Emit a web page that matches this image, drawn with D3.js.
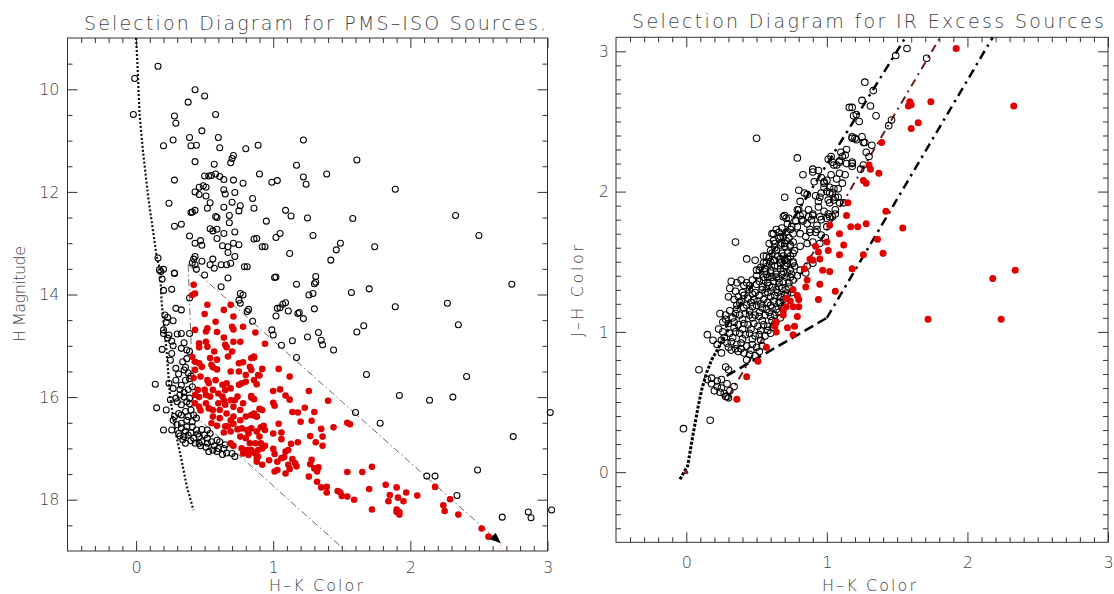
<!DOCTYPE html>
<html><head><meta charset="utf-8">
<script src="https://cdn.jsdelivr.net/npm/d3@7"></script>
<style>body{margin:0;background:#fff}</style>
</head><body><svg id="c" width="1114" height="594"></svg>
<script>
// ---------- LEFT PANEL DATA (H-K colour, H magnitude) ----------
const leftTitle = "Selection Diagram for PMS\u2013ISO Sources.";
const rightTitle = "Selection Diagram for IR Excess Sources";
const xTicks = [0,1,2,3];
const leftYTicks = [10,12,14,16,18];
const rightYTicks = [0,1,2,3];
const leftOpen = [
[0.16,9.55],[-0.01,9.79],[0.43,10.01],[0.50,10.13],[0.38,10.25],[-0.02,10.49],[0.58,10.49],[0.28,10.52],[0.29,10.66],[0.48,10.81],[0.27,10.99],[0.39,10.94],[0.60,10.94],[0.20,11.10],[0.40,11.10],[0.44,11.09],[0.61,11.14],[0.80,11.16],[0.89,11.09],[1.22,10.99],[0.43,11.41],[0.57,11.46],[0.70,11.35],[0.71,11.29],[0.69,11.43],[1.17,11.48],[0.90,11.65],[0.50,11.69],[0.53,11.69],[0.55,11.68],[0.58,11.65],[0.61,11.70],[0.64,11.76],[0.71,11.77],[0.78,11.83],[0.28,11.77],[0.99,11.81],[1.03,11.78],[1.22,11.71],[1.24,11.85],[0.49,11.88],[0.46,11.91],[0.51,11.91],[0.43,12.00],[0.46,12.05],[0.51,12.08],[0.64,11.96],[0.65,12.04],[0.72,12.01],[0.24,12.22],[0.54,12.21],[0.52,12.32],[0.64,12.30],[0.70,12.20],[0.76,12.27],[0.75,12.37],[0.85,12.13],[0.86,12.32],[0.40,12.40],[0.41,12.39],[0.43,12.36],[0.58,12.48],[0.59,12.50],[0.68,12.46],[1.09,12.36],[1.13,12.47],[1.25,12.51],[0.28,12.67],[0.33,12.63],[0.68,12.60],[0.95,12.57],[0.54,12.72],[0.56,12.76],[0.59,12.73],[0.64,12.81],[0.72,12.78],[0.39,12.86],[0.43,13.00],[0.47,12.95],[0.48,13.04],[0.59,12.91],[0.63,13.05],[0.67,13.07],[0.71,13.00],[0.75,13.03],[0.86,12.92],[0.88,12.91],[0.92,13.07],[0.94,13.07],[1.02,12.89],[1.05,12.81],[1.12,13.20],[0.43,13.26],[0.42,13.31],[0.41,13.38],[0.43,13.42],[0.44,13.51],[0.48,13.35],[0.56,13.31],[0.54,13.42],[0.57,13.49],[0.62,13.42],[0.66,13.42],[0.69,13.39],[0.72,13.26],[0.67,13.18],[0.79,13.46],[0.81,13.46],[1.02,13.66],[0.28,13.58],[0.16,13.29],[0.17,13.52],[0.20,13.51],[0.50,13.62],[0.67,13.68],
[1.61,11.38],[1.39,11.65],[1.89,11.95],[1.58,12.52],[2.33,12.46],[1.29,12.85],[2.50,12.85],[1.49,13.00],[1.46,13.13],[1.74,13.07],[1.42,13.33],[1.31,13.65],
[1.01,13.67],[1.17,13.80],[1.30,13.79],[1.31,13.76],[1.26,14.01],[1.29,13.98],[1.57,13.96],[1.70,13.89],[2.74,13.80],[1.89,14.24],[2.27,14.17],[1.02,14.42],[1.03,14.27],[1.05,14.26],[1.07,14.19],[1.09,14.16],[1.11,14.32],[1.18,14.37],[1.19,14.35],[1.22,14.47],[1.30,14.28],[2.35,14.59],[0.85,14.52],[0.99,14.69],[1.00,14.79],[1.06,14.99],[1.14,14.90],[1.25,14.83],[1.33,14.74],[1.35,14.89],[1.36,14.98],[1.44,15.08],[1.61,14.73],[1.66,14.61],[1.17,15.23],[1.68,15.56],[2.41,15.60],[1.92,15.97],[2.14,16.06],[2.31,16.00],[1.60,16.30],[1.78,16.51],[3.02,16.30],[2.75,16.77],[2.12,17.54],[2.18,17.54],[2.49,17.42],[2.34,17.92],[2.67,18.34],[2.86,18.24],[2.88,18.35],[3.03,18.20],
[0.18,13.55],[0.19,13.70],[0.20,13.92],[0.26,13.90],[0.28,13.59],[0.39,14.07],[0.62,13.85],[0.76,13.98],[0.78,14.01],[0.75,14.11],[0.76,14.17],[0.82,14.29],[0.81,14.33],[0.29,14.27],[0.33,14.30],[0.21,14.40],[0.23,14.45],[0.22,14.54],[0.27,14.51],[0.20,14.69],[0.20,14.76],[0.24,14.79],[0.23,14.85],[0.30,14.77],[0.33,14.76],[0.39,14.76],[0.26,14.91],[0.27,15.00],[0.19,15.07],[0.35,14.94],[0.37,15.08],[0.39,15.11],[0.25,15.28],[0.29,15.44],[0.34,15.31],[0.37,15.25],[0.35,15.47],[0.38,15.53],[0.14,15.75],[0.24,15.73],[0.27,15.83],[0.32,15.85],[0.29,15.67],[0.33,15.77],[0.36,15.67],[0.39,15.64],[0.40,15.59],[0.32,15.96],[0.35,15.91],[0.38,15.85],[0.41,15.80],[0.29,16.02],[0.30,16.09],[0.33,16.15],[0.37,16.09],[0.39,16.02],[0.35,16.00],[0.39,16.13],[0.15,16.21],[0.22,16.25],[0.28,16.38],[0.31,16.32],[0.33,16.35],[0.36,16.28],[0.38,16.38],[0.42,16.35],[0.44,16.41],[0.41,16.48],[0.30,16.54],[0.33,16.51],[0.37,16.58],[0.41,16.58],[0.44,16.64],[0.48,16.63],[0.52,16.64],[0.54,16.71],[0.50,16.74],[0.20,16.64],[0.26,16.64],[0.31,16.71],[0.35,16.77],[0.38,16.74],[0.42,16.80],[0.46,16.77],[0.48,16.87],[0.52,16.80],[0.55,16.87],[0.59,16.84],[0.43,16.90],[0.46,16.90],[0.52,16.90],[0.56,17.03],[0.59,17.06],[0.64,17.00],[0.66,17.09],[0.70,17.10],[0.72,17.16],[0.61,16.87],[0.65,16.93],[0.34,16.83],[0.32,16.76],
[0.36,16.66],[0.40,16.70],[0.45,16.72],[0.33,16.60],[0.47,16.95],[0.51,16.98],[0.40,16.85],[0.36,16.90],[0.53,17.06],[0.60,17.00],[0.63,17.12],[0.57,16.95],[0.27,16.45],[0.25,16.05],[0.31,15.55],[0.26,15.15],[0.33,15.05],[0.36,15.42],[0.40,16.25],[0.37,16.45]
];
const leftRed = [
[0.87,14.74],[0.94,14.96],[0.86,15.23],[0.92,15.45],[1.04,15.45],[0.90,15.58],[1.12,15.60],[0.88,15.75],[1.00,15.88],[1.05,15.85],[1.26,15.88],[0.84,16.01],[1.09,15.97],[1.12,16.05],[1.40,16.07],[1.00,16.11],[1.01,16.17],[0.92,16.25],[0.90,16.23],[0.86,16.36],[0.88,16.38],[1.14,16.29],[1.18,16.30],[1.23,16.21],[1.30,16.29],[1.20,16.48],[1.28,16.46],[1.54,16.50],[1.56,16.53],[1.44,16.59],[1.35,16.62],[1.04,16.52],[0.93,16.56],[0.91,16.59],[0.94,16.64],[1.00,16.71],[1.06,16.69],[1.27,16.76],[1.36,16.77],[1.13,16.91],[1.11,17.03],[1.18,16.88],[1.06,16.82],[1.31,16.88],[1.36,16.95],[0.91,16.90],[0.94,16.95],[0.92,17.00],[0.89,17.03],[0.86,17.08],[0.88,17.19],[1.00,17.01],[1.01,17.11],[0.97,17.23],[1.03,17.26],[1.06,17.19],[1.09,17.06],[1.08,17.17],[1.14,17.21],[1.16,17.29],[1.17,17.35],[1.11,17.32],[1.12,17.40],[1.01,17.45],[1.03,17.42],[1.09,17.49],[0.92,17.32],[1.28,17.22],[1.27,17.31],[1.30,17.39],[1.32,17.45],[1.33,17.37],[1.26,17.55],[1.32,17.65],[1.35,17.76],[1.39,17.75],[1.39,17.86],[1.47,17.83],[1.49,17.86],[1.50,17.93],[1.54,17.94],[1.59,18.00],[1.54,17.46],[1.65,17.46],[1.72,17.36],[1.70,17.79],[1.72,18.19],[1.82,17.71],[1.90,17.76],[1.97,17.86],[2.05,17.92],[1.85,17.91],[1.84,18.03],[1.91,17.96],[1.95,18.03],[1.90,18.19],[1.92,18.24],[1.90,18.24],[1.92,18.29],[2.18,17.75],[2.29,17.99],[2.24,18.11],[2.25,18.22],[2.35,18.29],[2.52,18.56],[2.57,18.72],
[0.42,13.81],[0.43,13.98],[0.41,14.01],[0.52,14.20],[0.50,14.38],[0.58,14.53],[0.64,14.30],[0.69,14.20],[0.70,14.63],[0.71,14.68],[0.78,14.63],[0.71,14.43],[0.43,14.69],[0.52,14.66],[0.51,14.72],[0.59,14.73],[0.64,14.84],[0.46,14.95],[0.46,15.03],[0.51,14.92],[0.52,15.02],[0.57,15.11],[0.65,14.98],[0.66,15.03],[0.71,14.92],[0.76,14.92],[0.70,15.11],[0.84,15.24],[0.86,15.21],[0.83,15.41],[0.41,15.22],[0.43,15.31],[0.46,15.34],[0.48,15.41],[0.54,15.24],[0.59,15.27],[0.55,15.37],[0.56,15.42],[0.59,15.46],[0.67,15.21],[0.75,15.34],[0.78,15.32],[0.69,15.50],[0.75,15.50],[0.80,15.57],[0.89,15.57],[0.84,15.47],[0.43,15.47],[0.42,15.63],[0.47,15.60],[0.52,15.67],[0.53,15.73],[0.58,15.67],[0.63,15.76],[0.69,15.83],[0.66,15.73],[0.75,15.76],[0.77,15.73],[0.80,15.70],[0.86,15.67],[0.45,15.86],[0.43,15.96],[0.46,16.00],[0.50,15.86],[0.51,15.96],[0.54,15.99],[0.56,15.86],[0.60,15.93],[0.63,15.99],[0.65,15.86],[0.64,16.06],[0.69,16.06],[0.74,15.99],[0.72,16.06],[0.84,15.98],[0.86,16.04],[0.43,16.12],[0.46,16.19],[0.47,16.26],[0.51,16.12],[0.53,16.22],[0.56,16.25],[0.60,16.12],[0.61,16.25],[0.65,16.15],[0.66,16.32],[0.71,16.19],[0.76,16.25],[0.78,16.12],[0.84,16.35],[0.86,16.32],[0.88,16.38],[0.71,16.38],[0.69,16.45],[0.76,16.45],[0.80,16.38],[0.56,16.38],[0.61,16.41],[0.55,16.51],[0.59,16.56],[0.65,16.57],[0.67,16.57],[0.71,16.52],[0.64,16.69],[0.69,16.67],[0.74,16.63],[0.77,16.61],[0.81,16.64],[0.82,16.71],[0.84,16.61],[0.88,16.67],[0.90,16.77],[0.76,16.77],[0.80,16.80],[0.83,16.90],[0.69,16.90],[0.71,16.95],[0.87,16.90],[0.77,17.00],[0.81,17.03],[0.78,17.10],[0.84,17.03],[0.87,17.10],[0.89,17.16],[0.82,17.13],[0.88,17.26]
];
const isochrone = [[0.00,9.0],[0.01,9.5],[0.025,10.47],[0.05,11.2],[0.09,12.13],[0.15,13.26],[0.175,13.52],[0.187,14.17],[0.224,15.15],[0.248,15.99],[0.285,16.64],[0.326,17.16],[0.37,17.74],[0.418,18.2]];
const leftVertical = [[0.38,13.42],[0.42,16.34]];
const leftUpper = [[0.38,13.42],[2.66,18.85]];
const leftLower = [[0.42,16.34],[1.53,19.0]];

// ---------- RIGHT PANEL DATA (H-K colour, J-H colour) ----------
const rightOpen = [
[0.50,2.38],[0.79,2.24],[1.16,2.60],[0.83,2.12],[0.90,2.14],[0.96,2.10],[1.01,2.23],[1.04,2.21],[1.07,2.19],[1.09,2.22],[1.13,2.26],[1.14,2.30],[0.70,1.96],[0.80,2.01],[0.84,1.99],[0.86,1.98],[0.81,1.93],[0.92,1.97],[0.94,1.93],[0.95,1.96],[1.00,2.00],[1.02,1.99],[1.05,1.94],[1.08,1.96],[1.09,1.92],[1.12,1.92],[0.98,2.06],[1.02,2.03],[1.07,2.09],[1.09,2.13],[0.35,1.64],[0.43,1.52],[0.49,1.51],[0.69,1.82],[0.71,1.81],[0.79,1.87],[0.81,1.83],[0.83,1.79],[0.87,1.82],[0.90,1.84],[0.95,1.82],[1.00,1.81],[1.02,1.82],[1.06,1.84],[0.74,1.73],[0.79,1.75],[0.81,1.70],[0.85,1.68],[0.88,1.71],[0.93,1.73],[0.96,1.69],[1.00,1.75],[0.67,1.68],[0.68,1.63],[0.71,1.65],[0.74,1.61],[0.62,1.70],[0.63,1.63],[0.60,1.58],[0.76,1.56],[0.81,1.61],[0.86,1.63],[0.90,1.64],[0.95,1.63],[0.99,1.67],[0.55,1.54],[0.57,1.49],[0.62,1.51],[0.67,1.49],[0.70,1.51],[0.71,1.47],[0.76,1.49],[0.81,1.44],[0.86,1.47],[0.90,1.49],[0.50,1.44],[0.55,1.39],[0.60,1.42],[0.64,1.39],[0.69,1.43],[0.74,1.39],[0.79,1.40],[0.85,1.42],
[1.18,2.39],[1.20,2.38],[1.25,2.39],[1.26,2.35],[1.32,2.33],[1.03,2.25],[1.10,2.28],[1.11,2.25],[1.14,2.20],[1.05,2.19],[1.09,2.21],[1.18,2.20],[1.26,2.19],[0.90,2.16],[0.94,2.15],[0.91,2.07],[0.98,2.07],[1.00,2.08],[1.03,2.12],[1.05,2.02],[1.08,2.02],[1.11,2.06],[1.13,2.12],[1.04,1.99],[1.06,1.96],[0.98,2.03],[1.01,1.94],[0.96,1.99],[1.01,1.84],
[1.57,3.02],[1.49,2.97],[1.71,2.95],[1.27,2.78],[1.33,2.72],[1.25,2.65],[1.31,2.61],[1.18,2.60],[1.21,2.55],[1.19,2.54],[1.23,2.50],[1.35,2.54],[1.46,2.51],[1.44,2.47],[1.18,2.38],[1.21,2.37],[1.27,2.35],[1.28,2.28],[1.30,2.25],[1.18,2.21],[1.24,2.16],[1.18,2.18],
[0.15,0.98],[0.09,0.73],[0.80,1.87],[0.83,1.84],[0.87,1.87],[0.90,1.83],[0.94,1.89],[0.98,1.86],[0.82,1.80],[0.86,1.77],[0.89,1.80],[0.93,1.76],[0.96,1.80],[0.88,1.73],[0.92,1.71],[1.02,1.92],[1.06,1.87],[1.04,1.82],[0.70,1.83],[0.73,1.81],
[0.61,1.70],[0.64,1.73],[0.68,1.74],[0.71,1.71],[0.75,1.75],[0.76,1.70],[0.73,1.67],[0.69,1.68],[0.66,1.67],[0.62,1.65],[0.59,1.63],
[0.67,1.62],[0.70,1.61],[0.74,1.62],[0.77,1.58],[0.72,1.56],[0.68,1.56],[0.64,1.58],[0.61,1.56],[0.57,1.54],[0.60,1.50],[0.63,1.51],[0.67,1.52],[0.70,1.51],[0.74,1.54],[0.76,1.50],
[0.55,1.49],[0.56,1.45],[0.60,1.44],[0.63,1.47],[0.67,1.45],[0.70,1.47],[0.74,1.44],[0.77,1.47],[0.52,1.44],[0.57,1.41],[0.61,1.39],[0.64,1.41],[0.68,1.41],[0.71,1.39],[0.75,1.41],[0.55,1.37],[0.58,1.35],[0.62,1.36],[0.66,1.35],[0.69,1.36],[0.73,1.35],[0.76,1.37],
[0.32,1.36],[0.36,1.35],[0.39,1.37],[0.43,1.35],[0.47,1.37],[0.50,1.34],[0.54,1.32],[0.57,1.31],[0.61,1.32],[0.64,1.30],[0.68,1.31],[0.71,1.30],[0.45,1.30],[0.49,1.28],[0.52,1.26],[0.56,1.28],[0.60,1.25],[0.63,1.26],[0.67,1.25],[0.70,1.26],[0.75,1.28],
[0.31,1.31],[0.35,1.29],[0.37,1.25],[0.41,1.26],[0.44,1.24],[0.48,1.23],[0.51,1.22],[0.55,1.23],[0.58,1.21],[0.62,1.22],[0.66,1.21],[0.69,1.23],
[0.30,1.25],[0.34,1.23],[0.36,1.19],[0.39,1.22],[0.43,1.19],[0.47,1.18],[0.50,1.19],[0.54,1.17],[0.57,1.16],[0.61,1.17],[0.64,1.16],[0.68,1.18],
[0.24,1.13],[0.28,1.12],[0.31,1.15],[0.35,1.13],[0.38,1.12],[0.42,1.13],[0.45,1.12],[0.49,1.12],[0.52,1.11],[0.56,1.12],[0.60,1.11],[0.63,1.12],[0.67,1.10],
[0.26,1.07],[0.30,1.06],[0.34,1.07],[0.37,1.05],[0.41,1.06],[0.44,1.05],[0.48,1.06],[0.51,1.04],[0.55,1.05],[0.58,1.04],[0.62,1.03],
[0.23,1.02],[0.26,1.00],[0.31,0.99],[0.35,1.00],[0.38,0.99],[0.42,0.98],[0.45,0.99],[0.49,0.97],[0.52,0.98],[0.56,0.97],[0.60,0.99],
[0.25,0.94],[0.29,0.92],[0.32,0.93],[0.36,0.91],[0.39,0.92],[0.43,0.90],[0.47,0.91],[0.50,0.89],[0.54,0.90],[0.32,0.87],[0.37,0.86],[0.41,0.85],[0.45,0.84],[0.49,0.83],[0.43,0.80],
[0.15,0.66],[0.18,0.67],[0.22,0.65],[0.25,0.66],[0.18,0.63],[0.22,0.61],[0.25,0.60],[0.29,0.63],[0.20,0.58],[0.24,0.57],[0.28,0.54],[0.31,0.58],[0.34,0.61],[0.30,0.53],
[-0.02,0.31],[0.17,0.37],[0.28,0.75],[0.30,0.73],[0.19,0.94],[0.22,0.91],[0.25,0.85],[0.29,0.54],[0.27,0.56],
[0.33,1.10],[0.40,1.09],[0.47,1.10],[0.54,1.08],[0.61,1.08],[0.36,1.16],[0.41,1.17],[0.45,1.15],[0.52,1.14],[0.59,1.14],[0.66,1.14],[0.38,1.21],[0.46,1.21],[0.53,1.20],[0.60,1.19],[0.67,1.21],
[0.40,1.28],[0.47,1.27],[0.54,1.30],[0.58,1.28],[0.65,1.28],[0.72,1.27],[0.41,1.33],[0.45,1.33],[0.52,1.36],[0.59,1.33],[0.66,1.32],[0.73,1.32],[0.50,1.40],[0.58,1.39],[0.66,1.38],[0.72,1.42],
[0.53,1.46],[0.58,1.47],[0.65,1.47],[0.72,1.49],[0.59,1.53],[0.65,1.54],[0.69,1.54],[0.72,1.52],[0.63,1.60],[0.70,1.63],[0.76,1.64],[0.66,1.71],[0.72,1.77],[0.78,1.79],
[0.27,0.96],[0.33,0.96],[0.40,0.95],[0.47,0.95],[0.53,0.94],[0.30,0.89],[0.35,0.88],[0.39,0.88],[0.46,0.87],[0.52,0.86],[0.28,1.09],[0.34,1.03],[0.40,1.02],[0.46,1.02],[0.53,1.01],[0.58,1.01]
];
const rightRed = [
[1.92,3.02],[2.33,2.61],[1.59,2.64],[1.60,2.62],[1.58,2.61],[1.74,2.64],[1.60,2.45],[1.65,2.49],[1.39,2.35],[1.31,2.16],[1.30,2.19],[1.37,2.13],[1.26,2.08],[1.28,2.06],[1.42,1.86],[1.54,1.74],[1.17,1.75],[1.22,1.75],[1.28,1.77],[1.36,1.66],[1.26,1.55],[1.40,1.56],[1.18,1.45],[2.34,1.44],[2.18,1.38],[1.15,1.92],
[1.14,1.83],[1.02,1.76],[1.09,1.70],[1.00,1.64],[1.01,1.58],[0.92,1.61],[0.94,1.57],[1.12,1.62],[0.90,1.51],[0.95,1.52],[1.09,1.55],[0.84,1.45],[0.97,1.44],[1.02,1.43],[0.88,1.52],[0.86,1.37],[0.85,1.32],[0.95,1.34],[1.06,1.29],[0.76,1.30],[0.79,1.26],[0.80,1.23],[0.71,1.24],[0.74,1.22],[0.76,1.18],[0.80,1.18],[0.71,1.18],[0.94,1.23],[0.69,1.15],[0.69,1.12],[0.79,1.11],[0.64,1.07],[0.63,1.04],[0.64,1.00],[0.72,1.03],[0.77,1.04],[0.76,0.98],[0.57,0.89],[0.51,0.79],[0.43,0.68],[0.36,0.52],
[1.72,1.09],[2.24,1.09]
];
const dwarfLocus = [[-0.045,-0.05],[0.01,0.045],[0.05,0.28],[0.085,0.47],[0.11,0.59],[0.145,0.71],[0.18,0.80],[0.22,0.87],[0.30,1.02]];
const upperReddening = [[0.28,1.03],[1.56,3.1]];
const middleReddening = [[0.30,0.54],[1.806,3.1]];
const cttsLocus = [[0.287,0.686],[1.0,1.1]];
const lowerReddening = [[1.0,1.1],[2.18,3.1]];

// ---------- DRAWING ----------
const svg = d3.select("#c");
svg.append("rect").attr("width",1114).attr("height",594).attr("fill","#fff");
const TXT = "#444", AX = "#333", FONT = "DejaVu Sans, sans-serif", FW = 200;

function frame(x, y, xMinor, yMinor, yMajor, xPad, yPad){
  const [L,R] = x.range(); const B = Math.max(...y.range()), T = Math.min(...y.range());
  const g = svg.append("g");
  const st = s => s.selectAll(".domain").remove();
  const styl = s => { s.selectAll("line").attr("stroke",AX); s.selectAll("text").attr("fill",TXT).attr("font-size",16).attr("font-weight",FW).attr("font-family",FONT); };
  g.append("g").attr("transform",`translate(0,${B})`).call(d3.axisBottom(x).tickValues(xTicks).tickSize(-10).tickPadding(xPad).tickFormat(d3.format("d"))).call(st).call(styl);
  g.append("g").attr("transform",`translate(0,${B})`).call(d3.axisBottom(x).tickValues(xMinor).tickSize(-5).tickFormat("")).call(st).call(styl);
  g.append("g").attr("transform",`translate(0,${T})`).call(d3.axisTop(x).tickValues(xTicks).tickSize(-10).tickFormat("")).call(st).call(styl);
  g.append("g").attr("transform",`translate(0,${T})`).call(d3.axisTop(x).tickValues(xMinor).tickSize(-5).tickFormat("")).call(st).call(styl);
  g.append("g").attr("transform",`translate(${L},0)`).call(d3.axisLeft(y).tickValues(yMajor).tickSize(-10).tickPadding(yPad).tickFormat(d3.format("d"))).call(st).call(styl);
  g.append("g").attr("transform",`translate(${L},0)`).call(d3.axisLeft(y).tickValues(yMinor).tickSize(-5).tickFormat("")).call(st).call(styl);
  g.append("g").attr("transform",`translate(${R},0)`).call(d3.axisRight(y).tickValues(yMajor).tickSize(-10).tickFormat("")).call(st).call(styl);
  g.append("g").attr("transform",`translate(${R},0)`).call(d3.axisRight(y).tickValues(yMinor).tickSize(-5).tickFormat("")).call(st).call(styl);
  g.append("rect").attr("x",L).attr("y",T).attr("width",R-L).attr("height",B-T).attr("fill","none").attr("stroke",AX).attr("stroke-width",1);
}
function label(txt, x, y, len, size, rot){
  const t = svg.append("text").attr("font-family",FONT).attr("font-size",size).attr("font-weight",FW).attr("fill",TXT)
    .attr("textLength",len).attr("lengthAdjust","spacing").text(txt);
  if(rot){ t.attr("transform",`translate(${x},${y}) rotate(-90)`); } else { t.attr("x",x).attr("y",y); }
}
const xMinorAll = d3.range(-4,30).map(i=>i/10).filter(v=>Math.abs(v-Math.round(v))>1e-6);

// LEFT
const xL = d3.scaleLinear().domain([-0.5,3]).range([67.5,547.5]);
const yL = d3.scaleLinear().domain([9,19]).range([38,551]);
const lnL = d3.line().x(d=>xL(d[0])).y(d=>yL(d[1]));
const yMinorL = d3.range(19,38).map(i=>i/2).filter(v=>!leftYTicks.includes(v));
frame(xL, yL, xMinorAll, yMinorL, leftYTicks, 11, 8);

svg.append("path").attr("d",lnL(isochrone)).attr("fill","none").attr("stroke","#111").attr("stroke-width",2.2).attr("stroke-dasharray","2,2");
[leftVertical,leftUpper,leftLower].forEach(p=>svg.append("path").attr("d",lnL(p)).attr("fill","none").attr("stroke","#444").attr("stroke-width",0.8).attr("stroke-dasharray","7,3,1.5,3"));
svg.append("path").attr("d",lnL([[2.66,18.88],[2.66,19.0]])).attr("stroke","#e77").attr("stroke-width",1).attr("stroke-dasharray","1,2");

svg.append("g").selectAll("circle").data(leftOpen).join("circle")
  .attr("cx",d=>xL(d[0])).attr("cy",d=>yL(d[1])).attr("r",3).attr("fill","none").attr("stroke","#000").attr("stroke-width",1.05);
svg.append("g").selectAll("circle").data(leftRed).join("circle")
  .attr("cx",d=>xL(d[0])).attr("cy",d=>yL(d[1])).attr("r",3.3).attr("fill","#e00000");
{
  const p0=[xL(leftUpper[0][0]),yL(leftUpper[0][1])], p1=[xL(leftUpper[1][0]),yL(leftUpper[1][1])];
  const a=Math.atan2(p1[1]-p0[1],p1[0]-p0[0]), Ln=11, W=4.5;
  const bx=p1[0]-Ln*Math.cos(a), by=p1[1]-Ln*Math.sin(a);
  const pts=[p1,[bx+W*Math.sin(a),by-W*Math.cos(a)],[bx-W*Math.sin(a),by+W*Math.cos(a)]];
  svg.append("path").attr("d","M"+pts.map(p=>p.join(",")).join("L")+"Z").attr("fill","#000");
}
label(leftTitle, 84, 30, 462, 19);
label("H\u2013K Color", 269, 591, 94, 16);
label("H Magnitude", 25, 342, 96, 16, true);

// RIGHT
const xR = d3.scaleLinear().domain([-0.5,3]).range([616,1108]);
const yR = d3.scaleLinear().domain([-0.5,3.1]).range([542.3,37.3]);
const lnR = d3.line().x(d=>xR(d[0])).y(d=>yR(d[1]));
const yMinorR = d3.range(-4,31).map(i=>i/10).filter(v=>Math.abs(v-Math.round(v))>1e-6);
frame(xR, yR, xMinorAll, yMinorR, rightYTicks, 14, 7);

svg.append("path").attr("d",lnR(dwarfLocus)).attr("fill","none").attr("stroke","#000").attr("stroke-width",3).attr("stroke-dasharray","3,1.6");
[upperReddening, lowerReddening].forEach(p=>svg.append("path").attr("d",lnR(p)).attr("fill","none").attr("stroke","#000").attr("stroke-width",2.5).attr("stroke-dasharray","9,5,2.5,5"));
svg.append("path").attr("d",lnR(middleReddening)).attr("fill","none").attr("stroke","#6b1c1c").attr("stroke-width",2).attr("stroke-dasharray","8,5,2,5");
svg.append("path").attr("d",lnR(cttsLocus)).attr("fill","none").attr("stroke","#000").attr("stroke-width",2.5).attr("stroke-dasharray","10,5");

svg.append("g").selectAll("circle").data(rightOpen).join("circle")
  .attr("cx",d=>xR(d[0])).attr("cy",d=>yR(d[1])).attr("r",3.3).attr("fill","none").attr("stroke","#000").attr("stroke-width",1.05);
svg.append("g").selectAll("circle").data(rightRed).join("circle")
  .attr("cx",d=>xR(d[0])).attr("cy",d=>yR(d[1])).attr("r",3.5).attr("fill","#e00000");
svg.append("circle").attr("cx",xR(0)).attr("cy",yR(0)).attr("r",2).attr("fill","#7a2020");
label(rightTitle, 632, 28, 472, 19);
label("H\u2013K Color", 822, 591, 94, 16);
label("J\u2013H Color", 583, 337, 92, 16, true);
</script></body></html>
